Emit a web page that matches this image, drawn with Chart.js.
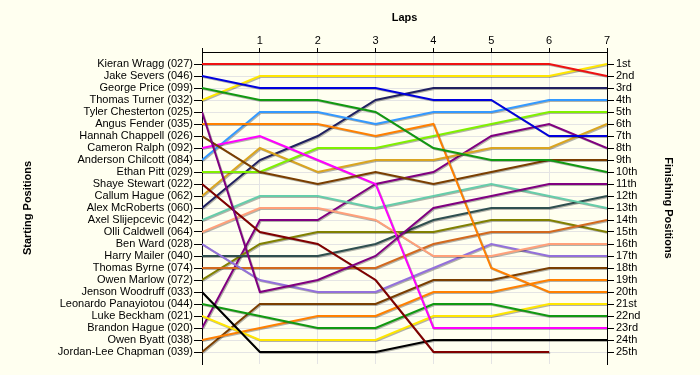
<!DOCTYPE html>
<html>
<head>
<meta charset="utf-8">
<script src="https://cdn.jsdelivr.net/npm/chart.js@4.4.1/dist/chart.umd.min.js"></script>
<style>
  html, body { margin: 0; padding: 0; background: #fffff0; }
  #wrap { width: 700px; height: 375px; }
</style>
</head>
<body>
<div id="wrap"><canvas id="lapChart" width="700" height="375"></canvas></div>
<script>
const laps = [0, 1, 2, 3, 4, 5, 6, 7];

const drivers = [
  'Kieran Wragg (027)', 'Jake Severs (046)', 'George Price (099)', 'Thomas Turner (032)',
  'Tyler Chesterton (025)', 'Angus Fender (035)', 'Hannah Chappell (026)', 'Cameron Ralph (092)',
  'Anderson Chilcott (084)', 'Ethan Pitt (029)', 'Shaye Stewart (022)', 'Callum Hague (062)',
  'Alex McRoberts (060)', 'Axel Slijepcevic (042)', 'Olli Caldwell (064)', 'Ben Ward (028)',
  'Harry Mailer (040)', 'Thomas Byrne (074)', 'Owen Marlow (072)', 'Jenson Woodruff (033)',
  'Leonardo Panayiotou (044)', 'Luke Beckham (021)', 'Brandon Hague (020)', 'Owen Byatt (038)',
  'Jordan-Lee Chapman (039)'
];

const finishLabels = [
  '1st', '2nd', '3rd', '4th', '5th', '6th', '7th', '8th', '9th', '10th', '11th', '12th', '13th',
  '14th', '15th', '16th', '17th', '18th', '19th', '20th', '21st', '22nd', '23rd', '24th', '25th'
];

// position of each driver at the end of each lap (lap 0 = grid)
const positionsByDriver = [
  [1, 1, 1, 1, 1, 1, 1, 2],
  [2, 3, 3, 3, 4, 4, 7, 7],
  [3, 4, 4, 5, 8, 9, 9, 10],
  [4, 2, 2, 2, 2, 2, 2, 1],
  [5, 20, 19, 17, 13, 12, 11, 11],
  [6, 6, 6, 7, 6, 18, 20, 20],
  [7, 10, 11, 10, 11, 10, 9, 9],
  [8, 7, 9, 11, 23, 23, 23, 23],
  [9, 5, 5, 6, 5, 5, 4, 4],
  [10, 10, 8, 8, 7, 6, 5, 5],
  [11, 15, 16, 19, 25, 25, 25, null],
  [12, 8, 10, 9, 9, 8, 8, 6],
  [13, 9, 7, 4, 3, 3, 3, 3],
  [14, 12, 12, 13, 12, 11, 12, 13],
  [15, 13, 13, 14, 17, 17, 16, 16],
  [16, 19, 20, 20, 18, 16, 17, 17],
  [17, 17, 17, 16, 14, 13, 13, 12],
  [18, 18, 18, 18, 16, 15, 15, 14],
  [19, 16, 15, 15, 15, 14, 14, 15],
  [20, 25, 25, 25, 24, 24, 24, 24],
  [21, 22, 23, 23, 21, 21, 22, 22],
  [22, 24, 24, 24, 22, 22, 21, 21],
  [23, 14, 14, 11, 10, 7, 6, 8],
  [24, 23, 22, 22, 20, 20, 19, 19],
  [25, 21, 21, 21, 19, 19, 18, 18]
];

const lineColors = [
  '#ee1111', '#0000dd', '#119911', '#ffe600', '#800080', '#ff8000', '#7a3e00', '#ff00ff',
  '#3399ff', '#80f000', '#800000', '#daa520', '#202060', '#66cdaa', '#ffa07a', '#9370db',
  '#2f4f4f', '#d2691e', '#808000', '#000000', '#119911', '#ffe600', '#800080', '#ff8000',
  '#7a3e00'
];

const labelFont = { family: "'Liberation Sans', Arial, sans-serif", size: 11 };
const titleFont = { family: "'Liberation Sans', Arial, sans-serif", size: 11, weight: 'bold' };
const gridColor = '#e4e4e4';

const datasets = drivers.map((name, i) => ({
  label: name,
  data: laps
    .map((lap, j) => ({ x: lap, y: positionsByDriver[i][j] }))
    .filter(p => p.y !== null),
  borderColor: lineColors[i],
  borderWidth: 2,
  pointRadius: 0,
  tension: 0,
  fill: false
}));

// soft drop shadow under each line, like the original
const lineShadow = {
  id: 'lineShadow',
  beforeDatasetDraw(chart) {
    const ctx = chart.ctx;
    ctx.save();
    ctx.shadowColor = 'rgba(0,0,0,0.3)';
    ctx.shadowOffsetX = 1;
    ctx.shadowOffsetY = 1;
    ctx.shadowBlur = 0;
  },
  afterDatasetDraw(chart) {
    chart.ctx.restore();
  }
};

const positionTicks = () => drivers.map((_, i) => ({ value: i + 1 }));

new Chart(document.getElementById('lapChart'), {
  type: 'line',
  data: { datasets },
  plugins: [lineShadow],
  options: {
    responsive: false,
    animation: false,
    devicePixelRatio: 1,
    layout: { padding: { bottom: 11 } },
    plugins: {
      legend: { display: false },
      tooltip: { enabled: false }
    },
    scales: {
      x: {
        type: 'linear',
        position: 'top',
        min: 0,
        max: 7,
        afterFit: s => { s.height = 52; },
        ticks: {
          stepSize: 1,
          padding: 0,
          color: '#000',
          font: labelFont,
          callback: v => (v === 0 ? '' : v)
        },
        grid: { color: gridColor, tickColor: '#000', tickLength: 4 },
        border: { color: '#000' },
        title: { display: true, text: 'Laps', color: '#000', font: titleFont, padding: { top: 11 } }
      },
      y: {
        type: 'linear',
        position: 'left',
        reverse: true,
        min: 0,
        max: 26,
        afterFit: s => { s.width = 202; },
        afterBuildTicks: s => { s.ticks = positionTicks(); },
        ticks: {
          autoSkip: false,
          padding: 1,
          color: '#000',
          font: labelFont,
          callback: v => drivers[v - 1]
        },
        grid: { color: gridColor, tickColor: '#000', tickLength: 8 },
        border: { color: '#000' },
        title: { display: true, text: 'Starting Positions', color: '#000', font: titleFont, padding: { top: 21 } }
      },
      y2: {
        type: 'linear',
        position: 'right',
        reverse: true,
        min: 0,
        max: 26,
        afterFit: s => { s.width = 93; },
        afterBuildTicks: s => { s.ticks = positionTicks(); },
        ticks: {
          autoSkip: false,
          padding: 2,
          color: '#000',
          font: labelFont,
          callback: v => finishLabels[v - 1]
        },
        grid: { drawOnChartArea: false, tickColor: '#000', tickLength: 7 },
        border: { color: '#000' },
        title: { display: true, text: 'Finishing Positions', color: '#000', font: titleFont, padding: { top: 25 } }
      }
    }
  }
});
</script>
</body>
</html>
